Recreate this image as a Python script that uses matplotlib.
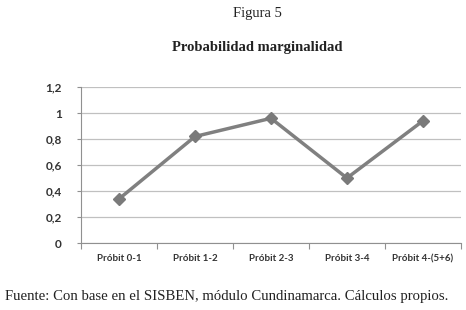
import numpy as np
import matplotlib.pyplot as plt

categorias = ['Próbit 0-1', 'Próbit 1-2', 'Próbit 2-3', 'Próbit 3-4', 'Próbit 4-(5+6)']
probabilidad = [0.34, 0.82, 0.96, 0.50, 0.94]
yticks = [0, 0.2, 0.4, 0.6, 0.8, 1.0, 1.2]
ytick_labels = ['0', '0,2', '0,4', '0,6', '0,8', '1', '1,2']

fig = plt.figure(figsize=(4.66, 3.10), dpi=100)
ax = fig.add_axes([0.174, 0.216, 0.815, 0.503])

x = np.arange(len(categorias))
ax.plot(x, probabilidad, color='#808080', lw=2.5, marker='D', ms=6,
        markerfacecolor='#7a7a7a', markeredgecolor='#7a7a7a', zorder=3)

ax.set_xlim(-0.5, len(categorias) - 0.5)
ax.set_ylim(0, 1.2)
ax.set_yticks(yticks)
ax.set_yticklabels(ytick_labels, fontsize=8.5, fontweight='bold', color='#333333', family='Lato')
ax.yaxis.grid(True, color='#c0c0c0', lw=0.9)
ax.set_axisbelow(True)

# category labels between boundary ticks
ax.set_xticks(np.arange(-0.5, len(categorias)), minor=False)
ax.set_xticklabels([])
ax.set_xticks(x, minor=True)
ax.set_xticklabels(categorias, minor=True, fontsize=7, fontweight='bold', color='#333333', family='Lato')
ax.tick_params(axis='x', which='minor', length=0, pad=8)
ax.tick_params(axis='x', which='major', length=4, color='#909090')
ax.tick_params(axis='y', length=3, color='#909090', pad=11)

for s in ['top', 'right']:
    ax.spines[s].set_visible(False)
for s in ['left', 'bottom']:
    ax.spines[s].set_color('#909090')

fig.text(0.552, 0.958, 'Figura 5', ha='center', va='center', fontsize=10.5,
         family='Liberation Serif', color='#222222')
fig.text(0.552, 0.848, 'Probabilidad marginalidad', ha='center', va='center', fontsize=10.5,
         family='Liberation Serif', fontweight='bold', color='#222222')
fig.text(0.01, 0.042, 'Fuente: Con base en el SISBEN, módulo Cundinamarca. Cálculos propios.',
         ha='left', va='center', fontsize=10.6, family='Liberation Serif', color='#222222')

fig.savefig('out.png', dpi=100)
